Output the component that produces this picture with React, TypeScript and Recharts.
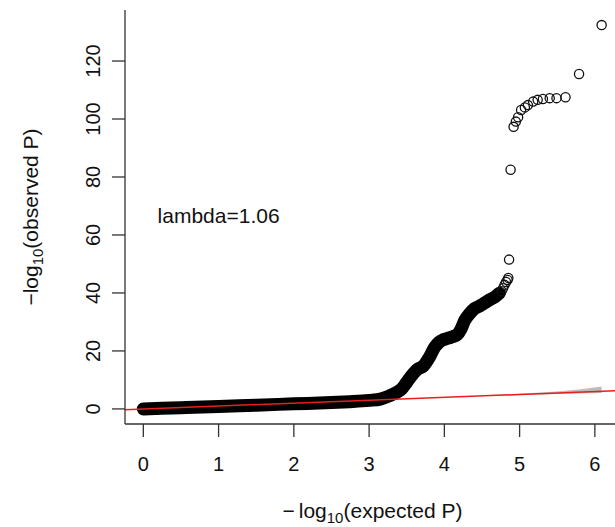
import { ComposedChart, XAxis, YAxis, Line, Scatter, Area, ReferenceDot } from "recharts";

const FONT = "'Liberation Sans', Arial, Helvetica, sans-serif";

const X_TICKS = [0, 1, 2, 3, 4, 5, 6];
const Y_TICKS = [0, 20, 40, 60, 80, 100, 120];
const X_DOMAIN = [-0.2436, 6.334];
const Y_DOMAIN = [-5.2, 137.6];

// heavily overplotted part of the cloud (centre of the black band)
const bandX = [0, 0.5, 1.0, 1.5, 2.0, 2.5, 2.74, 3.0, 3.15, 3.27, 3.36, 3.43, 3.5, 3.58, 3.65, 3.72, 3.8, 3.87, 3.93, 3.98, 4.05, 4.11, 4.17, 4.22, 4.27, 4.34, 4.4, 4.47, 4.55, 4.6, 4.67, 4.73];
const bandY = [0, 0.4, 0.8, 1.3, 1.75, 2.2, 2.5, 2.95, 3.4, 4.5, 5.6, 6.8, 9.2, 12.0, 13.8, 14.8, 17.8, 21.2, 23.0, 23.8, 24.4, 24.9, 25.6, 27.5, 30.5, 33.0, 34.6, 35.5, 36.8, 37.6, 38.6, 39.9];

// individual points in the tail
const tailX = [4.76, 4.78, 4.8, 4.82, 4.84, 4.85, 4.86, 4.88, 4.92, 4.95, 4.98, 5.02, 5.07, 5.11, 5.18, 5.24, 5.31, 5.4, 5.49, 5.61, 5.79, 6.09];
const tailY = [40.6, 41.6, 42.8, 43.8, 44.5, 45.2, 51.5, 82.5, 97.3, 99.1, 100.6, 103.1, 104.0, 104.8, 106.0, 106.6, 106.9, 107.2, 107.2, 107.5, 115.5, 132.4];

// grey confidence band around the diagonal
const ciX = [4.6, 4.9, 5.09, 5.39, 5.61, 5.79, 6.09];
const ciLow = [4.45, 4.7, 4.86, 5.08, 5.23, 5.34, 5.52];
const ciHigh = [4.77, 5.12, 5.41, 5.88, 6.3, 6.71, 7.7];

// y = x reference line
const diagX = [-0.2436, 6.334];

const bandData = bandX.map((x, i) => ({ x, y: bandY[i] }));
const tailData = tailX.map((x, i) => ({ x, y: tailY[i] }));
const ciData = ciX.map((x, i) => ({ x, range: [ciLow[i], ciHigh[i]] }));
const diagData = diagX.map((x) => ({ x, y: x }));

const AXIS = { stroke: "#333", strokeWidth: 1.3 };

const XTick = ({ x, y, payload }: any) => (
  <text x={x} y={y + 32} textAnchor="middle" fontSize={20} fontFamily={FONT} fill="#111">
    {payload.value}
  </text>
);

const YTick = ({ x, y, payload }: any) => (
  <text
    x={x - 10}
    y={y}
    transform={`rotate(-90, ${x - 10}, ${y})`}
    textAnchor="middle"
    fontSize={20}
    fontFamily={FONT}
    fill="#111"
  >
    {payload.value}
  </text>
);

const XTitle = ({ viewBox }: any) => (
  <text x={viewBox.x + viewBox.width / 2} y={viewBox.y + 94} textAnchor="middle" fontSize={21} fontFamily={FONT} fill="#111">
    −<tspan dx={4}>log</tspan>
    <tspan fontSize={15} dy={5}>10</tspan>
    <tspan dy={-5}>(expected P)</tspan>
  </text>
);

const YTitle = ({ viewBox }: any) => {
  const cx = 38;
  const cy = viewBox.y + viewBox.height / 2;
  return (
    <text x={cx} y={cy} transform={`rotate(-90, ${cx}, ${cy})`} textAnchor="middle" fontSize={21} fontFamily={FONT} fill="#111">
      −log
      <tspan fontSize={15} dy={5}>10</tspan>
      <tspan dy={-5}>(observed P)</tspan>
    </text>
  );
};

const OpenCircle = ({ cx, cy }: any) => (
  <circle cx={cx} cy={cy} r={4.6} fill="none" stroke="#111" strokeWidth={1.3} />
);

export default function App() {
  return (
    <div style={{ position: "fixed", left: 0, top: 0, width: 615, height: 527, overflow: "hidden", background: "#fff" }}>
      <ComposedChart width={640} height={527} margin={{ top: 10, right: 20, left: 0, bottom: 0 }}>
        <XAxis
          type="number"
          dataKey="x"
          domain={X_DOMAIN}
          ticks={X_TICKS}
          allowDataOverflow
          height={103}
          tickSize={13}
          axisLine={AXIS}
          tickLine={AXIS}
          tick={<XTick />}
          label={<XTitle />}
        />
        <XAxis xAxisId="top" orientation="top" type="number" dataKey="x" domain={X_DOMAIN} allowDataOverflow height={0} tick={false} tickLine={false} axisLine={AXIS} />
        <YAxis
          type="number"
          domain={Y_DOMAIN}
          ticks={Y_TICKS}
          allowDataOverflow
          width={125}
          tickSize={13}
          axisLine={AXIS}
          tickLine={AXIS}
          tick={<YTick />}
          label={<YTitle />}
        />
        <Area data={ciData} dataKey="range" type="linear" stroke="none" fill="#bdbdbd" fillOpacity={1} isAnimationActive={false} />
        <Line
          data={bandData}
          dataKey="y"
          type="monotone"
          stroke="#000"
          strokeWidth={13}
          strokeLinecap="round"
          strokeLinejoin="round"
          dot={false}
          isAnimationActive={false}
        />
        <Scatter data={tailData} dataKey="y" shape={<OpenCircle />} isAnimationActive={false} />
        <Line data={diagData} dataKey="y" type="linear" stroke="#e8201c" strokeWidth={1.5} dot={false} isAnimationActive={false} />
        <ReferenceDot
          x={1}
          y={66.6}
          r={0}
          shape={({ cx, cy }: any) => (
            <text x={cx} y={cy} dy={7} textAnchor="middle" fontSize={21} fontFamily={FONT} fill="#111">
              lambda=1.06
            </text>
          )}
        />
      </ComposedChart>
    </div>
  );
}
